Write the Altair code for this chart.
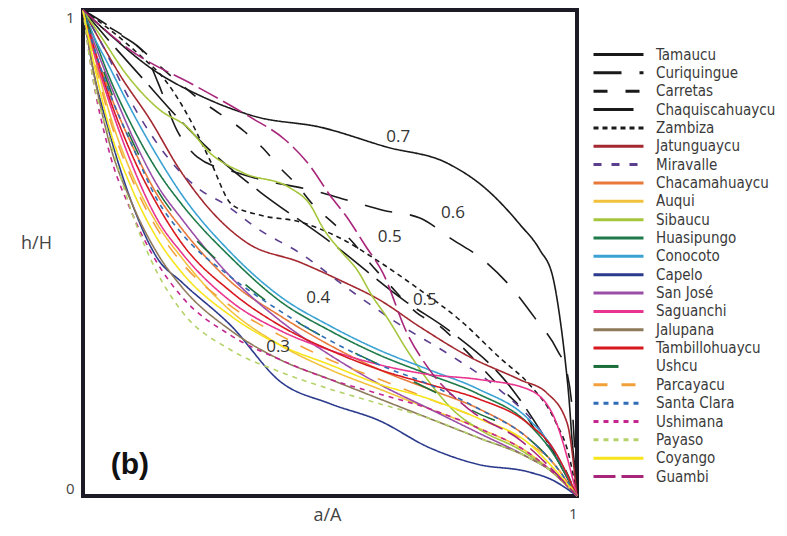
import altair as alt
import pandas as pd

names = ["Tamaucu", "Curiquingue", "Carretas", "Chaquiscahuaycu", "Zambiza",
         "Jatunguaycu", "Miravalle", "Chacamahuaycu", "Auqui", "Sibaucu",
         "Huasipungo", "Conocoto", "Capelo", "San José", "Saguanchi", "Jalupana",
         "Tambillohuaycu", "Ushcu", "Parcayacu", "Santa Clara", "Ushimana",
         "Payaso", "Coyango", "Guambi"]
colors = ["#1a1a1a", "#1a1a1a", "#1a1a1a", "#1a1a1a", "#1a1a1a",
          "#a3282f", "#5b3e8e", "#e8793a", "#f2c23e", "#a5c63b",
          "#1f7a4a", "#3aa3d4", "#2b3a8c", "#9b4ea8", "#e8338f", "#8e7a5a",
          "#d7191f", "#1a6e3a", "#f2a13a", "#2f6db5", "#c4268f",
          "#b5d36a", "#f7e51c", "#a8267a"]
dashes = [[1, 0], [28, 18], [14, 18], [40, 10], [5, 4],
          [1, 0], [8, 10], [1, 0], [1, 0], [1, 0],
          [1, 0], [1, 0], [1, 0], [1, 0], [1, 0], [1, 0],
          [1, 0], [25, 40], [14, 14], [5, 5], [5, 5],
          [5, 5], [1, 0], [22, 6]]

# curves with their own sampling
tamaucu_x = [0, 0.055, 0.142, 0.243, 0.352, 0.480, 0.615, 0.737, 0.818, 0.885, 0.925, 0.951, 0.966, 0.976, 0.984, 0.990, 0.996, 1]
tamaucu_y = [1, 0.949, 0.877, 0.821, 0.780, 0.759, 0.718, 0.685, 0.630, 0.558, 0.506, 0.451, 0.362, 0.280, 0.198, 0.115, 0.053, 0]
curiquingue_x = [0, 0.075, 0.130, 0.152, 0.190, 0.231, 0.312, 0.364, 0.460, 0.534, 0.607, 0.682, 0.749, 0.810, 0.868, 0.915, 0.960, 0.980, 0.992, 1]
curiquingue_y = [1, 0.950, 0.901, 0.850, 0.753, 0.698, 0.665, 0.650, 0.630, 0.609, 0.588, 0.572, 0.527, 0.486, 0.428, 0.366, 0.300, 0.253, 0.156, 0]
carretas_x = [0, 0.040, 0.095, 0.176, 0.237, 0.328, 0.364, 0.399, 0.433, 0.466, 0.506, 0.547, 0.575, 0.621, 0.682, 0.719, 0.763, 0.850, 0.885, 0.925, 0.966, 1]
carretas_y = [1, 0.973, 0.938, 0.866, 0.815, 0.749, 0.716, 0.675, 0.640, 0.599, 0.562, 0.521, 0.486, 0.434, 0.372, 0.352, 0.311, 0.218, 0.183, 0.121, 0.074, 0]
chaquiscahuaycu_x = [0, 0.050, 0.120, 0.196, 0.280, 0.358, 0.500, 0.652, 0.743, 0.864, 0.925, 1]
chaquiscahuaycu_y = [1, 0.940, 0.860, 0.774, 0.690, 0.626, 0.523, 0.401, 0.339, 0.226, 0.136, 0]
zambiza_x = [0, 0.055, 0.115, 0.166, 0.217, 0.257, 0.302, 0.358, 0.439, 0.520, 0.601, 0.682, 0.763, 0.844, 0.905, 0.955, 0.986, 1]
zambiza_y = [1, 0.959, 0.907, 0.856, 0.774, 0.691, 0.599, 0.578, 0.564, 0.531, 0.481, 0.424, 0.362, 0.284, 0.228, 0.156, 0.074, 0]
jatunguaycu_x = [0, 0.034, 0.075, 0.136, 0.196, 0.267, 0.332, 0.439, 0.520, 0.601, 0.682, 0.783, 0.885, 0.939, 0.980, 1]
jatunguaycu_y = [1, 0.938, 0.866, 0.774, 0.671, 0.578, 0.521, 0.481, 0.444, 0.403, 0.348, 0.286, 0.239, 0.212, 0.150, 0]
miravalle_x = [0, 0.034, 0.095, 0.176, 0.237, 0.283, 0.358, 0.439, 0.540, 0.642, 0.743, 0.844, 0.925, 1]
miravalle_y = [1, 0.938, 0.815, 0.691, 0.630, 0.603, 0.547, 0.500, 0.424, 0.352, 0.290, 0.218, 0.136, 0]
sibaucu_x = [0, 0.034, 0.089, 0.156, 0.211, 0.257, 0.324, 0.419, 0.460, 0.486, 0.520, 0.555, 0.587, 0.615, 0.656, 0.702, 0.749, 0.804, 0.885, 0.945, 1]
sibaucu_y = [1, 0.949, 0.866, 0.794, 0.759, 0.706, 0.665, 0.634, 0.599, 0.551, 0.506, 0.465, 0.409, 0.368, 0.300, 0.233, 0.177, 0.136, 0.095, 0.053, 0]
guambi_x = [0, 0.095, 0.231, 0.338, 0.409, 0.455, 0.500, 0.534, 0.571, 0.607, 0.656, 0.702, 0.783, 0.885, 1]
guambi_y = [1, 0.918, 0.842, 0.780, 0.733, 0.685, 0.619, 0.574, 0.516, 0.459, 0.335, 0.259, 0.177, 0.115, 0]

# curves read on a common a/A grid
grid_x = [0, 0.02, 0.05, 0.1, 0.15, 0.2, 0.3, 0.4, 0.5, 0.6, 0.7, 0.8, 0.9, 0.95, 1]
chacamahuaycu_y = [1, 0.93, 0.84, 0.72, 0.62, 0.55, 0.44, 0.37, 0.31, 0.26, 0.22, 0.18, 0.12, 0.07, 0]
auqui_y = [1, 0.92, 0.80, 0.66, 0.56, 0.49, 0.38, 0.31, 0.26, 0.22, 0.18, 0.14, 0.09, 0.05, 0]
huasipungo_y = [1, 0.95, 0.87, 0.76, 0.67, 0.60, 0.49, 0.40, 0.34, 0.29, 0.25, 0.21, 0.15, 0.09, 0]
conocoto_y = [1, 0.95, 0.89, 0.79, 0.70, 0.62, 0.50, 0.41, 0.35, 0.30, 0.26, 0.22, 0.16, 0.10, 0]
capelo_y = [1, 0.88, 0.76, 0.60, 0.49, 0.44, 0.35, 0.235, 0.19, 0.155, 0.10, 0.065, 0.05, 0.033, 0]
san_jose_y = [1, 0.94, 0.86, 0.74, 0.64, 0.57, 0.45, 0.36, 0.29, 0.23, 0.18, 0.13, 0.08, 0.05, 0]
saguanchi_y = [1, 0.92, 0.82, 0.68, 0.57, 0.50, 0.40, 0.34, 0.30, 0.27, 0.25, 0.24, 0.22, 0.17, 0]
jalupana_y = [1, 0.88, 0.74, 0.60, 0.50, 0.43, 0.34, 0.28, 0.24, 0.20, 0.16, 0.12, 0.08, 0.05, 0]
tambillohuaycu_y = [1, 0.93, 0.83, 0.70, 0.60, 0.52, 0.42, 0.35, 0.30, 0.26, 0.23, 0.20, 0.15, 0.10, 0]
ushcu_y = [1, 0.94, 0.85, 0.73, 0.63, 0.56, 0.46, 0.38, 0.32, 0.27, 0.22, 0.17, 0.12, 0.07, 0]
parcayacu_y = [1, 0.91, 0.79, 0.65, 0.55, 0.48, 0.39, 0.33, 0.28, 0.24, 0.20, 0.16, 0.11, 0.07, 0]
santa_clara_y = [1, 0.93, 0.84, 0.72, 0.61, 0.54, 0.45, 0.38, 0.32, 0.27, 0.23, 0.18, 0.12, 0.07, 0]
ushimana_y = [1, 0.86, 0.72, 0.58, 0.48, 0.41, 0.33, 0.28, 0.24, 0.21, 0.18, 0.14, 0.09, 0.05, 0]
payaso_y = [1, 0.86, 0.75, 0.58, 0.46, 0.38, 0.30, 0.255, 0.22, 0.19, 0.16, 0.12, 0.08, 0.05, 0]
coyango_y = [1, 0.90, 0.77, 0.63, 0.53, 0.46, 0.37, 0.31, 0.27, 0.23, 0.20, 0.16, 0.11, 0.06, 0]

# contour-like labels written on the figure
note_text = ["0.7", "0.6", "0.5", "0.5", "0.4", "0.3"]
note_x = [0.638, 0.749, 0.621, 0.692, 0.476, 0.395]
note_y = [0.739, 0.582, 0.533, 0.403, 0.407, 0.307]

own = {
    "Tamaucu": (tamaucu_x, tamaucu_y),
    "Curiquingue": (curiquingue_x, curiquingue_y),
    "Carretas": (carretas_x, carretas_y),
    "Chaquiscahuaycu": (chaquiscahuaycu_x, chaquiscahuaycu_y),
    "Zambiza": (zambiza_x, zambiza_y),
    "Jatunguaycu": (jatunguaycu_x, jatunguaycu_y),
    "Miravalle": (miravalle_x, miravalle_y),
    "Sibaucu": (sibaucu_x, sibaucu_y),
    "Guambi": (guambi_x, guambi_y),
}
gridded = {
    "Chacamahuaycu": chacamahuaycu_y, "Auqui": auqui_y, "Huasipungo": huasipungo_y,
    "Conocoto": conocoto_y, "Capelo": capelo_y, "San José": san_jose_y,
    "Saguanchi": saguanchi_y, "Jalupana": jalupana_y, "Tambillohuaycu": tambillohuaycu_y,
    "Ushcu": ushcu_y, "Parcayacu": parcayacu_y, "Santa Clara": santa_clara_y,
    "Ushimana": ushimana_y, "Payaso": payaso_y, "Coyango": coyango_y,
}

rows = []
for n in names:
    if n in own:
        xs_, ys_ = own[n]
    else:
        xs_, ys_ = grid_x, gridded[n]
    for i, (a, b) in enumerate(zip(xs_, ys_)):
        rows.append({"name": n, "x": a, "y": b, "i": i})
df = pd.DataFrame(rows)
notes = pd.DataFrame({"t": note_text, "x": note_x, "y": note_y})
tag = pd.DataFrame({"t": ["(b)"], "x": [0.095], "y": [0.064]})

leg = alt.Legend(title=None, orient="none", legendX=528, legendY=37,
                 symbolType="M-5,0H5", symbolSize=100, symbolStrokeWidth=3,
                 labelFont="Liberation Sans Narrow, DejaVu Sans Condensed, Open Sans",
                 labelFontSize=15, labelColor="#3a3a3a", labelOffset=30,
                 rowPadding=2.35, symbolLimit=50)

xax = alt.Axis(values=[1], format=".0f", ticks=False, domain=False, grid=False, title="a/A",
               titleX=244, titleY=19, titleBaseline="middle", titleAlign="center",
               titleFontSize=18, titleFontWeight="normal", titleColor="#444",
               titleFont="Open Sans", labelFont="Open Sans",
               labelFontSize=15, labelColor="#444", labelPadding=10)
yax = alt.Axis(values=[0, 1], format=".0f", ticks=False, domain=False, grid=False, title="h/H",
               titleAngle=0, titleX=-47, titleY=233, titleAlign="center",
               titleBaseline="middle", titleFontSize=18, titleFontWeight="normal",
               titleColor="#444", titleFont="Open Sans", labelFont="Open Sans",
               labelFontSize=15, labelColor="#444", labelPadding=9,
               labelBaseline=alt.condition("datum.value == 0", alt.value("bottom"), alt.value("top")))

xs = alt.Scale(domain=[0, 1], nice=False)
ys = alt.Scale(domain=[0, 1], nice=False)

lines = alt.Chart(df).mark_line(strokeWidth=1.6, interpolate="monotone").encode(
    x=alt.X("x:Q", scale=xs, axis=xax),
    y=alt.Y("y:Q", scale=ys, axis=yax),
    color=alt.Color("name:N", scale=alt.Scale(domain=names, range=colors), legend=leg),
    strokeDash=alt.StrokeDash("name:N", scale=alt.Scale(domain=names, range=dashes), legend=leg),
    order="i:Q",
)

text = alt.Chart(notes).mark_text(fontSize=17, font="Open Sans", color="#333").encode(
    x=alt.X("x:Q", scale=xs), y=alt.Y("y:Q", scale=ys), text="t:N")

btxt = alt.Chart(tag).mark_text(fontSize=30, font="Liberation Sans", fontWeight="bold",
                                color="#111").encode(
    x=alt.X("x:Q", scale=xs), y=alt.Y("y:Q", scale=ys), text="t:N")

chart = alt.layer(lines, text, btxt).properties(
    width=494, height=486,
    autosize=alt.AutoSizeParams(type="none"),
    padding={"left": 75, "top": 2, "right": 202, "bottom": 32},
    background="white",
).configure_view(stroke="#1c1a24", strokeWidth=4)

chart.save("out.html", embed_options={"renderer": "svg", "actions": False})
